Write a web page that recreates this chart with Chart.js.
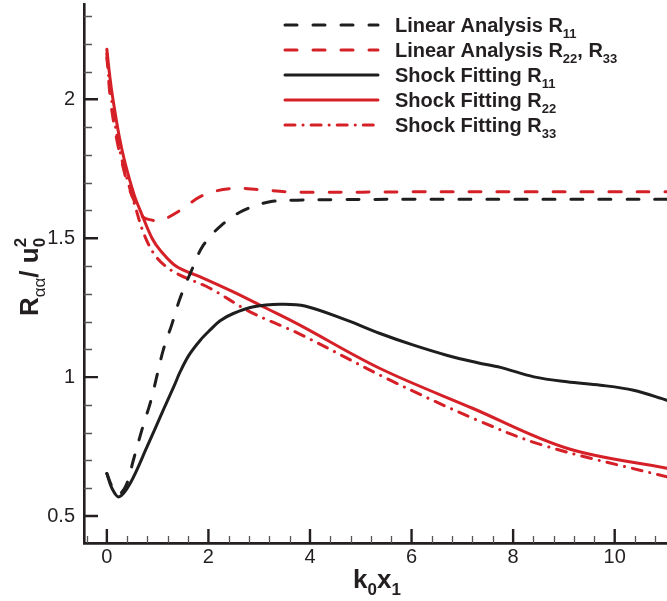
<!DOCTYPE html>
<html>
<head>
<meta charset="utf-8">
<script src="https://cdn.jsdelivr.net/npm/chart.js@4.4.1/dist/chart.umd.min.js"></script>
<style>
html, body { margin: 0; padding: 0; background: #fff; }
#wrap { width: 667px; height: 601px; }
</style>
</head>
<body>
<div id="wrap"><canvas id="chart" width="667" height="601"></canvas></div>
<script>
// x = k0*x1, y = R_aa / u0^2

// Linear Analysis R11
const laR11X = [0, 0.12, 0.24, 0.39, 0.52, 0.69, 0.87, 0.98, 1.11, 1.28, 1.44, 1.67, 1.9, 2.26, 2.69, 3.21, 3.74, 4.5, 6, 8, 10, 11.03];
const laR11Y = [0.653, 0.6, 0.578, 0.615, 0.70, 0.81, 0.917, 1.0, 1.097, 1.19, 1.283, 1.385, 1.475, 1.547, 1.60, 1.631, 1.637, 1.639, 1.64, 1.64, 1.64, 1.64];

// Linear Analysis R22, R33
const laR22X = [0, 0.07, 0.18, 0.3, 0.42, 0.56, 0.72, 0.89, 1.0, 1.1, 1.44, 1.9, 2.45, 3.0, 3.54, 4.06, 6, 8, 10, 11.03];
const laR22Y = [2.165, 2.0, 1.87, 1.77, 1.69, 1.626, 1.575, 1.565, 1.562, 1.565, 1.6, 1.655, 1.679, 1.675, 1.667, 1.665, 1.667, 1.667, 1.667, 1.667];

// Shock Fitting R11
const sfR11X = [0, 0.1, 0.24, 0.46, 0.79, 1.11, 1.34, 1.44, 1.62, 1.84, 2.03, 2.23, 2.49, 2.89, 3.41, 3.9, 4.72, 5.38, 6.04, 6.69, 7.3, 7.75, 8.41, 9.06, 9.72, 10.37, 11.03];
const sfR11Y = [0.653, 0.6, 0.569, 0.618, 0.749, 0.881, 0.975, 1.018, 1.08, 1.133, 1.169, 1.203, 1.229, 1.253, 1.262, 1.256, 1.205, 1.157, 1.115, 1.079, 1.052, 1.035, 1.001, 0.983, 0.971, 0.953, 0.917];

// Shock Fitting R22
const sfR22X = [0, 0.06, 0.12, 0.24, 0.36, 0.54, 0.69, 0.89, 1.05, 1.38, 1.84, 2.49, 3.15, 3.8, 5.38, 7.2, 9.06, 11.03];
const sfR22Y = [2.18, 2.08, 2.0, 1.87, 1.77, 1.655, 1.585, 1.5, 1.457, 1.397, 1.361, 1.307, 1.247, 1.187, 1.031, 0.888, 0.744, 0.672];

// Shock Fitting R33
const sfR33X = [0, 0.05, 0.1, 0.2, 0.3, 0.42, 0.56, 0.72, 0.92, 1.15, 1.44, 2.03, 2.82, 3.8, 5.58, 7.3, 8.62, 11.03];
const sfR33Y = [2.15, 2.06, 1.99, 1.87, 1.78, 1.70, 1.613, 1.52, 1.446, 1.40, 1.367, 1.32, 1.235, 1.155, 0.989, 0.845, 0.753, 0.641];

// axis ticks
const xMajor = [0, 2, 4, 6, 8, 10];
const yMajor = [0.5, 1, 1.5, 2];

const FONT = '"Liberation Sans", Arial, Helvetica, sans-serif';
const RED = '#d52027';
const BLACK = '#1e1e1e';
const AXIS = '#231f20';

const pts = (xs, ys) => xs.map((x, i) => ({ x: x, y: ys[i] }));

// split "R_{11}" style labels into normal / sub / sup parts
function parseRich(str) {
    const parts = [];
    const re = /([_^])\{([^}]*)\}/g;
    let last = 0, m;
    while ((m = re.exec(str))) {
        if (m.index > last) parts.push({ t: str.slice(last, m.index), k: 'n' });
        parts.push({ t: m[2], k: m[1] === '_' ? 'sub' : 'sup' });
        last = re.lastIndex;
    }
    if (last < str.length) parts.push({ t: str.slice(last), k: 'n' });
    return parts;
}

function richText(ctx, str, x, y, o, dry) {
    const parts = parseRich(str);
    let cx = x, prevSubW = 0;
    parts.forEach((p, i) => {
        const small = p.k !== 'n';
        const weight = small ? (p.t.indexOf('α') >= 0 ? o.altWeight || o.subWeight : o.subWeight) : o.weight;
        ctx.font = `${weight} ${small ? o.subSize : o.size}px ${FONT}`;
        const w = ctx.measureText(p.t).width;
        let px = cx;
        const stacked = p.k === 'sup' && i > 0 && parts[i - 1].k === 'sub';
        if (stacked) px = cx - prevSubW;
        const dy = p.k === 'sub' ? o.subDy : (p.k === 'sup' ? -o.supDy : 0);
        if (!dry) ctx.fillText(p.t, px, y + dy);
        cx = stacked ? Math.max(cx, px + w) : cx + w;
        prevSubW = p.k === 'sub' ? w : 0;
    });
    return cx - x;
}

// ticks pointing into the plot, major and minor
const inwardTicks = {
    id: 'inwardTicks',
    afterDraw(chart) {
        const { ctx, chartArea: a, scales: { x, y } } = chart;
        ctx.save();
        ctx.lineCap = 'butt';
        // minor
        ctx.lineWidth = 1.3;
        ctx.strokeStyle = '#555';
        ctx.beginPath();
        for (let v = 6; v <= 23; v++) {
            if (v % 5 === 0) continue;
            const py = Math.round(y.getPixelForValue(v / 10)) + 0.5;
            ctx.moveTo(a.left, py); ctx.lineTo(a.left + 8, py);
        }
        for (let v = -1; v <= 27; v++) {
            if (v % 5 === 0) continue;
            const px = Math.round(x.getPixelForValue(v * 0.4)) + 0.5;
            ctx.moveTo(px, a.bottom); ctx.lineTo(px, a.bottom - 7);
        }
        ctx.stroke();
        // major
        ctx.lineWidth = 2.4;
        ctx.strokeStyle = AXIS;
        ctx.beginPath();
        yMajor.forEach(v => {
            const py = y.getPixelForValue(v);
            ctx.moveTo(a.left, py); ctx.lineTo(a.left + 14, py);
        });
        xMajor.forEach(v => {
            const px = x.getPixelForValue(v);
            ctx.moveTo(px, a.bottom); ctx.lineTo(px, a.bottom - 14);
        });
        ctx.stroke();
        ctx.restore();
    }
};

const legendFont = { size: 20, weight: 'bold', subSize: 13, subWeight: 'bold', subDy: 6, supDy: 9 };
const titleFont = { size: 26, weight: 'bold', subSize: 17, subWeight: 'bold', altWeight: 'normal', subDy: 7, supDy: 12 };

const richLegend = {
    id: 'richLegend',
    afterDraw(chart) {
        const ctx = chart.ctx;
        ctx.save();
        ctx.textAlign = 'left';
        ctx.textBaseline = 'alphabetic';
        chart.data.datasets.forEach((ds, i) => {
            const ly = 25 + i * 25;
            ctx.beginPath();
            ctx.setLineDash(ds.borderDash || []);
            ctx.lineCap = 'round';
            ctx.lineWidth = 3;
            ctx.strokeStyle = ds.borderColor;
            ctx.moveTo(285, ly);
            ctx.lineTo(378, ly);
            ctx.stroke();
            ctx.setLineDash([]);
            ctx.fillStyle = AXIS;
            richText(ctx, ds.label, 395, ly + 7, legendFont);
        });
        ctx.restore();
    }
};

const axisTitles = {
    id: 'axisTitles',
    afterDraw(chart) {
        const ctx = chart.ctx;
        ctx.save();
        ctx.fillStyle = AXIS;
        ctx.textAlign = 'left';
        ctx.textBaseline = 'alphabetic';
        const xt = 'k_{0}x_{1}';
        const wx = richText(ctx, xt, 0, 0, titleFont, true);
        richText(ctx, xt, 377 - wx / 2, 588, titleFont);

        const yt = 'R_{αα}/ u_{0}^{2}';
        const wy = richText(ctx, yt, 0, 0, titleFont, true);
        ctx.translate(38, 277);
        ctx.rotate(-Math.PI / 2);
        richText(ctx, yt, -wy / 2, 0, titleFont);
        ctx.restore();
    }
};

const tickFont = { family: FONT, size: 20 };

new Chart(document.getElementById('chart'), {
    type: 'line',
    data: {
        datasets: [
            { label: 'Linear Analysis R_{11}', data: pts(laR11X, laR11Y), borderColor: BLACK, borderDash: [12, 16] },
            { label: 'Linear Analysis R_{22}, R_{33}', data: pts(laR22X, laR22Y), borderColor: RED, borderDash: [12, 16] },
            { label: 'Shock Fitting R_{11}', data: pts(sfR11X, sfR11Y), borderColor: BLACK },
            { label: 'Shock Fitting R_{22}', data: pts(sfR22X, sfR22Y), borderColor: RED },
            { label: 'Shock Fitting R_{33}', data: pts(sfR33X, sfR33Y), borderColor: RED, borderDash: [10, 8, 0.1, 8] }
        ]
    },
    options: {
        responsive: false,
        animation: false,
        devicePixelRatio: 1,
        layout: { padding: { top: 4, right: 0, left: 0, bottom: 0 } },
        elements: {
            point: { radius: 0 },
            line: { borderWidth: 3, tension: 0.35, borderCapStyle: 'round', fill: false }
        },
        plugins: {
            legend: { display: false },
            tooltip: { enabled: false },
            title: { display: false }
        },
        scales: {
            x: {
                type: 'linear',
                min: -0.45,
                max: 11.03,
                grid: { display: false, drawTicks: false },
                border: { display: true, color: AXIS, width: 2.8 },
                afterBuildTicks: s => { s.ticks = xMajor.map(v => ({ value: v })); },
                afterFit: s => { s.height = 58; s.paddingLeft = 0; s.paddingRight = 0; },
                ticks: { font: tickFont, color: AXIS, padding: 2, maxRotation: 0, autoSkip: false, callback: v => String(v) }
            },
            y: {
                type: 'linear',
                min: 0.403,
                max: 2.343,
                grid: { display: false, drawTicks: false },
                border: { display: true, color: AXIS, width: 2.6 },
                afterBuildTicks: s => { s.ticks = yMajor.map(v => ({ value: v })); },
                afterFit: s => { s.width = 84; s.paddingTop = 0; s.paddingBottom = 0; },
                ticks: { font: tickFont, color: AXIS, padding: 9, autoSkip: false, callback: v => String(v) }
            }
        }
    },
    plugins: [inwardTicks, richLegend, axisTitles]
});
</script>
</body>
</html>
